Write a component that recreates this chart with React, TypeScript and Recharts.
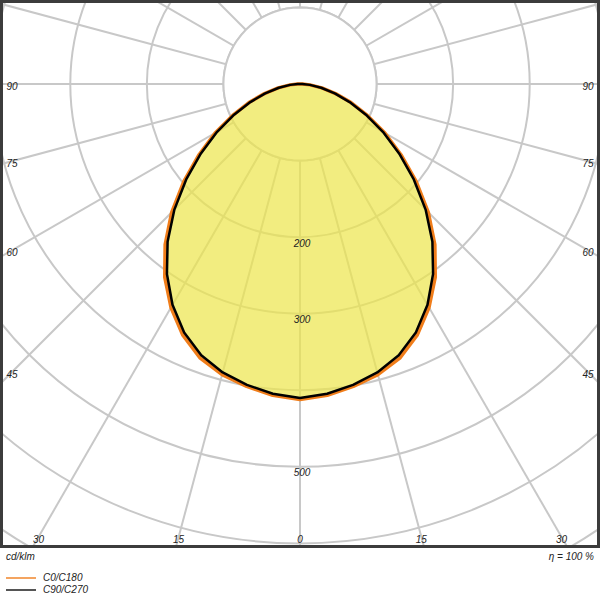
import React from 'react';
import { RadarChart, Radar, PolarGrid, PolarAngleAxis, PolarRadiusAxis } from 'recharts';

// half profiles, gamma = 0..180 in 5 degree steps (cd/klm), mirrored for the other half
export const gammaSteps = [
  0, 5, 10, 15, 20, 25, 30, 35, 40, 45, 50, 55, 60, 65, 70, 75, 80, 85, 90,
  95, 100, 105, 110, 115, 120, 125, 130, 135, 140, 145, 150, 155, 160, 165, 170, 175, 180,
];
export const c0c180 = [
  412, 408, 401, 393, 381, 362, 337, 308, 274, 237, 198, 161, 128, 97, 71, 48, 29, 13, 3,
  0, 0, 0, 0, 0, 0, 0, 0, 0, 0, 0, 0, 0, 0, 0, 0, 0, 0,
];
export const c90c270 = [
  410, 406, 399, 390, 377, 358, 333, 303, 269, 232, 194, 158, 125, 95, 69, 47, 28, 13, 3,
  0, 0, 0, 0, 0, 0, 0, 0, 0, 0, 0, 0, 0, 0, 0, 0, 0, 0,
];
export const angleTicks = [0, 15, 30, 45, 60, 75, 90, 105, 120, 135, 150, 165, 180, 195, 210, 225, 240, 255, 270, 285, 300, 315, 330, 345];
export const radiusLabels = [200, 300, 500];
export const innerRing = 100;
export const maxIntensity = 700;

const W = 600;
const H = 548;
const CX = 300;
const CY = 84;
const OUTER = 536;
const GRID = '#c8c8c8';
const TEXT = '#222';
const FONT = '"Liberation Sans", Arial, sans-serif';

const rows = [] as { angle: number; c0: number; c90: number; inner: number }[];
gammaSteps.forEach((g, i) => rows.push({ angle: g, c0: c0c180[i], c90: c90c270[i], inner: innerRing }));
for (let i = gammaSteps.length - 2; i > 0; i--) {
  rows.push({ angle: 360 - gammaSteps[i], c0: c0c180[i], c90: c90c270[i], inner: innerRing });
}

// angle labels pushed out to the frame edge along their own ray
const AngleTick = (props: any) => {
  const { x, y, payload } = props;
  const g = payload.value;
  if (g > 90 && g < 270) return null;
  const label = g <= 90 ? g : 360 - g;
  const dx = x - CX;
  const dy = y - CY;
  let t = Infinity;
  if (dx < -0.01) t = Math.min(t, (12 - CX) / dx);
  if (dx > 0.01) t = Math.min(t, (588 - CX) / dx);
  if (dy > 0.01) t = Math.min(t, (537 - CY) / dy);
  return (
    <text
      x={CX + dx * t}
      y={CY + dy * t + 2}
      textAnchor="middle"
      dominantBaseline="central"
      fontSize={10}
      fontStyle="italic"
      fontFamily={FONT}
      fill={TEXT}
    >
      {label}
    </text>
  );
};

const RadiusTick = (props: any) => {
  const { x, y, payload } = props;
  if (!radiusLabels.includes(payload.value)) return null;
  return (
    <text x={x + 2} y={y + 6} textAnchor="middle" dominantBaseline="central" fontSize={10} fontStyle="italic" fontFamily={FONT} fill={TEXT}>
      {payload.value}
    </text>
  );
};

const small: React.CSSProperties = { position: 'absolute', fontFamily: FONT, fontStyle: 'italic', fontSize: 10, color: TEXT, lineHeight: '12px' };

export default function App() {
  return (
    <div style={{ position: 'absolute', left: 0, top: 0, width: 600, height: 600, background: '#fff', overflow: 'hidden' }}>
      <div style={{ position: 'absolute', left: 0, top: 0, width: W, height: H, overflow: 'hidden' }}>
        <RadarChart width={W} height={H} cx={CX} cy={CY} outerRadius={OUTER} startAngle={-90} endAngle={270} data={rows}>
          <PolarGrid gridType="circle" stroke={GRID} strokeWidth={2} strokeOpacity={1} />
          <PolarAngleAxis
            dataKey="angle"
            type="number"
            domain={[0, 360]}
            ticks={angleTicks}
            axisLine={false}
            tickLine={false}
            tick={<AngleTick />}
          />
          <PolarRadiusAxis
            angle={-90}
            domain={[0, maxIntensity]}
            tickCount={8}
            axisLine={false}
            tickLine={false}
            tick={<RadiusTick />}
          />
          <Radar dataKey="inner" fill="#fff" fillOpacity={1} stroke={GRID} strokeWidth={2} strokeLinejoin="round" isAnimationActive={false} dot={false} activeDot={false} />
          <Radar dataKey="c0" fill="#ede64a" fillOpacity={0.7} stroke="#f07d1a" strokeWidth={3.5} strokeLinejoin="round" isAnimationActive={false} dot={false} activeDot={false} />
          <Radar dataKey="c90" fill="none" fillOpacity={0} stroke="#000" strokeWidth={2.5} strokeLinejoin="round" isAnimationActive={false} dot={false} activeDot={false} />
        </RadarChart>
      </div>
      <div style={{ position: 'absolute', left: 0, top: 0, width: W, height: H, boxSizing: 'border-box', border: '3px solid #3c3c3c', pointerEvents: 'none' }} />
      <div style={{ ...small, left: 6, top: 551 }}>cd/klm</div>
      <div style={{ ...small, right: 6, top: 551 }}>η = 100 %</div>
      <div style={{ position: 'absolute', left: 6, top: 577, width: 30, height: 1.5, background: '#f4a460' }} />
      <div style={{ ...small, left: 43, top: 572 }}>C0/C180</div>
      <div style={{ position: 'absolute', left: 6, top: 589, width: 30, height: 1.5, background: '#555' }} />
      <div style={{ ...small, left: 43, top: 584 }}>C90/C270</div>
    </div>
  );
}
